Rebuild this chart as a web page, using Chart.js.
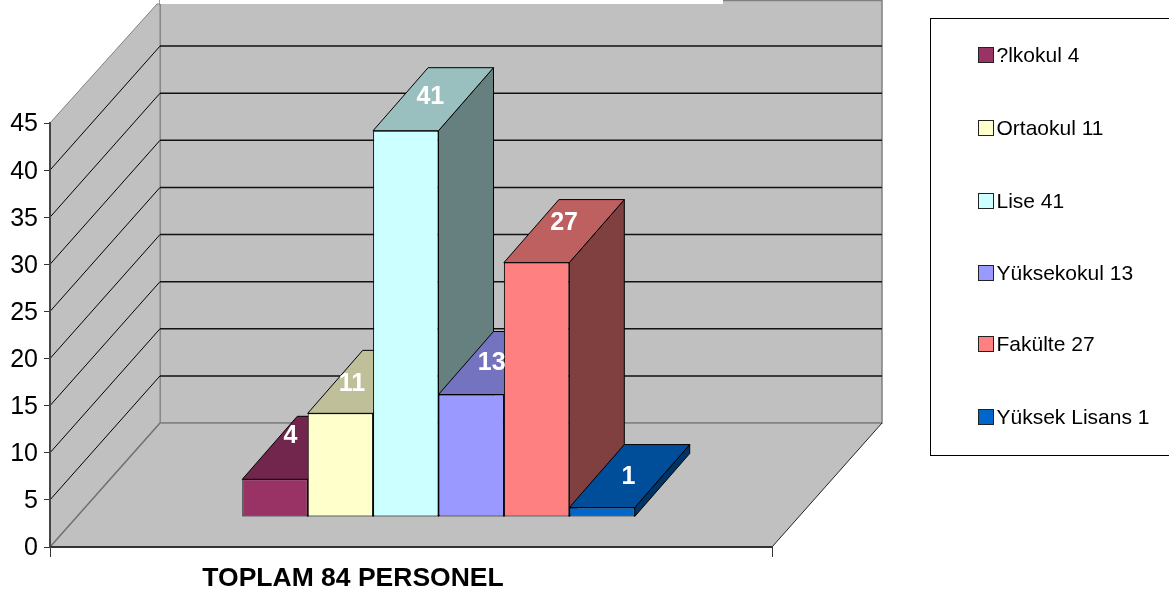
<!DOCTYPE html>
<html lang="en">
<head>
    <meta charset="UTF-8">
    <title>Toplam 84 Personel</title>
    <script src="https://cdn.jsdelivr.net/npm/chart.js"></script>
    <style>
        html, body { margin: 0; padding: 0; background: #fff; overflow: hidden; }
        canvas { display: block; }
    </style>
</head>
<body>
    <canvas id="staffChart" width="1169" height="596"></canvas>
    <script>
        const categories = ['TOPLAM 84 PERSONEL'];
        const seriesNames = ['?lkokul', 'Ortaokul', 'Lise', 'Yüksekokul', 'Fakülte', 'Yüksek Lisans'];
        const seriesValues = [4, 11, 41, 13, 27, 1];
        const seriesColors = ['#993366', '#FFFFCC', '#CCFFFF', '#9999FF', '#FF8080', '#0066CC'];

        const FONT = '"Liberation Sans", Arial, sans-serif';
        const WALL_DX = 110, WALL_DY = -124;   // depth of the box
        const BAR_DX = 27.5, BAR_DY = -30;     // bars stand a bit inside the floor
        const TOP_DX = 55, TOP_DY = -63;       // depth of a bar
        const GREY = '#C0C0C0', EDGE = '#808080';

        // where each number sits relative to the front top middle of its bar
        const labelNudge = [[15, -44], [11, -30], [24, -35], [20, -32], [27, -40], [26, -31]];
        const legendRows = [55, 128, 201, 273, 344, 417];

        function shade(hex, f) {
            const n = parseInt(hex.slice(1), 16);
            return `rgb(${(n >> 16) * f}, ${((n >> 8) & 255) * f}, ${(n & 255) * f})`;
        }

        function poly(ctx, pts, fill, stroke, width) {
            ctx.beginPath();
            pts.forEach((p, i) => i ? ctx.lineTo(p[0], p[1]) : ctx.moveTo(p[0], p[1]));
            ctx.closePath();
            if (fill) { ctx.fillStyle = fill; ctx.fill(); }
            if (stroke) { ctx.strokeStyle = stroke; ctx.lineWidth = width || 1; ctx.stroke(); }
        }

        function line(ctx, x1, y1, x2, y2, color, width) {
            ctx.beginPath();
            ctx.moveTo(x1, y1);
            ctx.lineTo(x2, y2);
            ctx.strokeStyle = color;
            ctx.lineWidth = width;
            ctx.stroke();
        }

        const boxPlugin = {
            id: 'box3d',
            beforeDraw(chart) {
                const ctx = chart.ctx, y = chart.scales.y, a = chart.chartArea;
                const y0 = y.getPixelForValue(0), yTop = y.getPixelForValue(45);
                const bx = a.left + WALL_DX, bxr = a.right + WALL_DX, by = y0 + WALL_DY;
                ctx.save();
                // back wall, side wall, floor
                poly(ctx, [[bx, 0.5], [bxr, 0.5], [bxr, by], [bx, by]], GREY, EDGE, 1.5);
                poly(ctx, [[a.left, yTop], [bx - 3, 4], [bx, 4], [bx, by], [a.left, y0]], GREY, EDGE, 1);
                poly(ctx, [[a.left, y0], [a.right, y0], [bxr, by], [bx, by]], GREY);
                line(ctx, a.left, y0, bx, by, '#707070', 1.5);
                line(ctx, bx, by, bxr, by, EDGE, 1.5);
                line(ctx, a.right, y0, bxr, by, '#222', 1);
                // gridlines run up the side wall and along the back wall
                y.ticks.forEach(t => {
                    if (t.value === 0 || t.value === 45) return;
                    const p = y.getPixelForValue(t.value);
                    line(ctx, a.left, p, bx, p + WALL_DY, '#000', 1);
                    line(ctx, bx, p + WALL_DY, bxr, p + WALL_DY, '#111', 1.5);
                });
                // white strip along the top of the back wall
                ctx.fillStyle = '#fff';
                ctx.fillRect(bx, 0, 723 - bx, 4);
                ctx.restore();
            },
            beforeDatasetsDraw(chart) {
                const ctx = chart.ctx;
                ctx.save();
                ctx.translate(BAR_DX, BAR_DY);
                // sides and tops left to right, the library then puts the fronts over them
                seriesValues.forEach((v, i) => {
                    const bar = chart.getDatasetMeta(i).data[0];
                    const l = bar.x - bar.width / 2, r = bar.x + bar.width / 2;
                    poly(ctx, [[r, bar.base], [r + TOP_DX, bar.base + TOP_DY], [r + TOP_DX, bar.y + TOP_DY], [r, bar.y]],
                        shade(seriesColors[i], 0.5), '#000');
                    poly(ctx, [[l, bar.y], [r, bar.y], [r + TOP_DX, bar.y + TOP_DY], [l + TOP_DX, bar.y + TOP_DY]],
                        shade(seriesColors[i], 0.75), '#000');
                });
            },
            afterDatasetsDraw(chart) {
                const ctx = chart.ctx;
                ctx.restore();
                ctx.save();
                ctx.fillStyle = '#fff';
                ctx.font = `bold 25px ${FONT}`;
                ctx.textAlign = 'center';
                ctx.textBaseline = 'middle';
                seriesValues.forEach((v, i) => {
                    const bar = chart.getDatasetMeta(i).data[0];
                    ctx.fillText(v, bar.x + 28 + labelNudge[i][0], bar.y + BAR_DY + labelNudge[i][1] + 1);
                });
                ctx.restore();
            },
            afterDraw(chart) {
                const ctx = chart.ctx;
                ctx.save();
                ctx.strokeStyle = '#000';
                ctx.lineWidth = 1;
                ctx.strokeRect(930.5, 18.5, 240, 437);
                ctx.font = `21px ${FONT}`;
                ctx.textBaseline = 'middle';
                seriesNames.forEach((name, i) => {
                    const ly = legendRows[i];
                    ctx.fillStyle = seriesColors[i];
                    ctx.fillRect(978.5, ly - 7.5, 15, 15);
                    ctx.strokeStyle = '#222';
                    ctx.strokeRect(978.5, ly - 7.5, 15, 15);
                    ctx.fillStyle = '#000';
                    ctx.fillText(`${name} ${seriesValues[i]}`, 996.5, ly + 1);
                });
                ctx.restore();
            }
        };

        new Chart(document.getElementById('staffChart'), {
            type: 'bar',
            data: {
                labels: categories,
                datasets: seriesNames.map((name, i) => ({
                    label: name,
                    data: [seriesValues[i]],
                    backgroundColor: seriesColors[i],
                    borderColor: '#000',
                    borderWidth: 1,
                    borderSkipped: false,
                    categoryPercentage: 0.5435,
                    barPercentage: 1
                }))
            },
            options: {
                responsive: false,
                animation: false,
                layout: { padding: { top: 123, right: 397, left: 0, bottom: 0 } },
                plugins: {
                    legend: { display: false },
                    tooltip: { enabled: false }
                },
                scales: {
                    x: {
                        afterFit(scale) { scale.height = 49; },
                        grid: { offset: true, drawOnChartArea: false, color: '#333', tickLength: 10 },
                        border: { color: '#333', width: 2 },
                        ticks: {
                            color: '#000',
                            font: { family: FONT, size: 26.5, weight: 'bold' },
                            padding: 6,
                            labelOffset: -58,
                            maxRotation: 0
                        }
                    },
                    y: {
                        min: 0,
                        max: 45,
                        afterFit(scale) { scale.width = 50; },
                        grid: { drawOnChartArea: false, color: '#333', tickLength: 6 },
                        border: { color: '#444', width: 2 },
                        ticks: {
                            stepSize: 5,
                            color: '#000',
                            font: { family: FONT, size: 25 },
                            padding: 6,
                            labelOffset: 1.5
                        }
                    }
                }
            },
            plugins: [boxPlugin]
        });
    </script>
</body>
</html>
